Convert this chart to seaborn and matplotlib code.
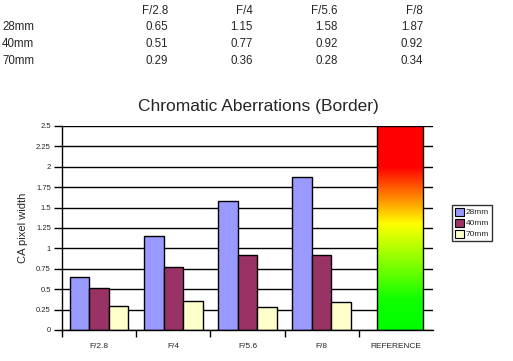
import numpy as np
import pandas as pd
import matplotlib
matplotlib.use("Agg")
import matplotlib.pyplot as plt
import seaborn as sns
from matplotlib.colors import LinearSegmentedColormap
from matplotlib.patches import Rectangle, Patch

apertures = ["F/2.8", "F/4", "F/5.6", "F/8"]
lenses = ["28mm", "40mm", "70mm"]
ca_28 = [0.65, 1.15, 1.58, 1.87]
ca_40 = [0.51, 0.77, 0.92, 0.92]
ca_70 = [0.29, 0.36, 0.28, 0.34]
reference_label = "REFERENCE"
reference_max = 2.5
yticks = [0, 0.25, 0.5, 0.75, 1, 1.25, 1.5, 1.75, 2, 2.25, 2.5]
ytick_labels = ["0", "0.25", "0.5", "0.75", "1", "1.25", "1.5", "1.75", "2", "2.25", "2.5"]

colors = ["#9999FF", "#993366", "#FFFFCC"]

sns.set_theme(style="white")
plt.rcParams["font.family"] = ["Liberation Sans", "DejaVu Sans"]

df = pd.DataFrame({
    "aperture": apertures * 3,
    "lens": [l for l in lenses for _ in apertures],
    "ca": ca_28 + ca_40 + ca_70,
})

fig = plt.figure(figsize=(5.13, 3.61), dpi=100)
ax = fig.add_axes([62 / 513, 31 / 361, 371 / 513, 204 / 361])

sns.barplot(data=df, x="aperture", y="ca", hue="lens", order=apertures,
            hue_order=lenses, palette=colors, width=0.79, edgecolor="black",
            linewidth=1, saturation=1, legend=False, ax=ax, zorder=3)

# reference gradient bar
cmap = LinearSegmentedColormap.from_list("ref", [
    (0.0, "#00FF00"), (0.15, "#11FF00"), (0.52, "#FFFF00"),
    (0.8, "#FF0000"), (1.0, "#FF0000")])
grad = np.linspace(0, 1, 256).reshape(-1, 1)
ref_x = len(apertures) + 0.05
ax.imshow(grad, cmap=cmap, origin="lower", aspect="auto",
          extent=[ref_x - 0.31, ref_x + 0.31, 0, reference_max], zorder=3)
ax.add_patch(Rectangle((ref_x - 0.31, 0), 0.62, reference_max, fill=False,
                       edgecolor="black", linewidth=1, zorder=4))

ax.set_xlim(-0.5, len(apertures) + 0.5)
ax.set_ylim(0, 2.5)
ax.set_yticks(yticks)
ax.set_yticklabels(ytick_labels, fontsize=5.5)
ax.yaxis.grid(True, color="black", linewidth=1, zorder=0)
ax.set_axisbelow(True)

ax.set_xticks(range(len(apertures) + 1))
ax.set_xticklabels(apertures + [reference_label], fontsize=6)
ax.set_xticks(np.arange(len(apertures) + 1) + 0.5 - 1, minor=True)
ax.tick_params(axis="x", which="major", length=0, pad=9)
ax.tick_params(axis="x", which="minor", length=5, width=1, color="black",
               direction="out", bottom=True)
ax.tick_params(axis="y", length=6, width=1, color="black", direction="out",
               left=True, pad=2)

for s in ["top", "right"]:
    ax.spines[s].set_visible(False)
for s in ["left", "bottom"]:
    ax.spines[s].set_color("black")
    ax.spines[s].set_linewidth(1)
    ax.spines[s].set_zorder(5)

ax.set_xlabel("")
ax.set_ylabel("CA pixel width", fontsize=8, labelpad=6)

fig.text(0.503, 1 - 106 / 361, "Chromatic Aberrations (Border)", fontsize=12.5,
         ha="center", va="center")

handles = [Patch(facecolor=c, edgecolor="black", linewidth=0.8) for c in colors]
leg = fig.legend(handles, lenses, loc="center", bbox_to_anchor=(472 / 513, 1 - 223 / 361),
                 fontsize=6, frameon=True, fancybox=False, edgecolor="black",
                 handlelength=1.0, handleheight=1.1, handletextpad=0.2,
                 labelspacing=0.25, borderpad=0.35, borderaxespad=0)
leg.get_frame().set_linewidth(1)

# data table at top
col_x = [168, 253, 338, 423]
row_y = [10.5, 27.5, 44, 61]
table_fs = 8.3
for x, a in zip(col_x, apertures):
    fig.text(x / 513, 1 - row_y[0] / 361, a, fontsize=table_fs, ha="right", va="center")
for y, lens, vals in zip(row_y[1:], lenses, [ca_28, ca_40, ca_70]):
    fig.text(2 / 513, 1 - y / 361, lens, fontsize=table_fs, ha="left", va="center")
    for x, v in zip(col_x, vals):
        fig.text(x / 513, 1 - y / 361, f"{v:.2f}", fontsize=table_fs, ha="right", va="center")

fig.savefig("out.png", dpi=100)
